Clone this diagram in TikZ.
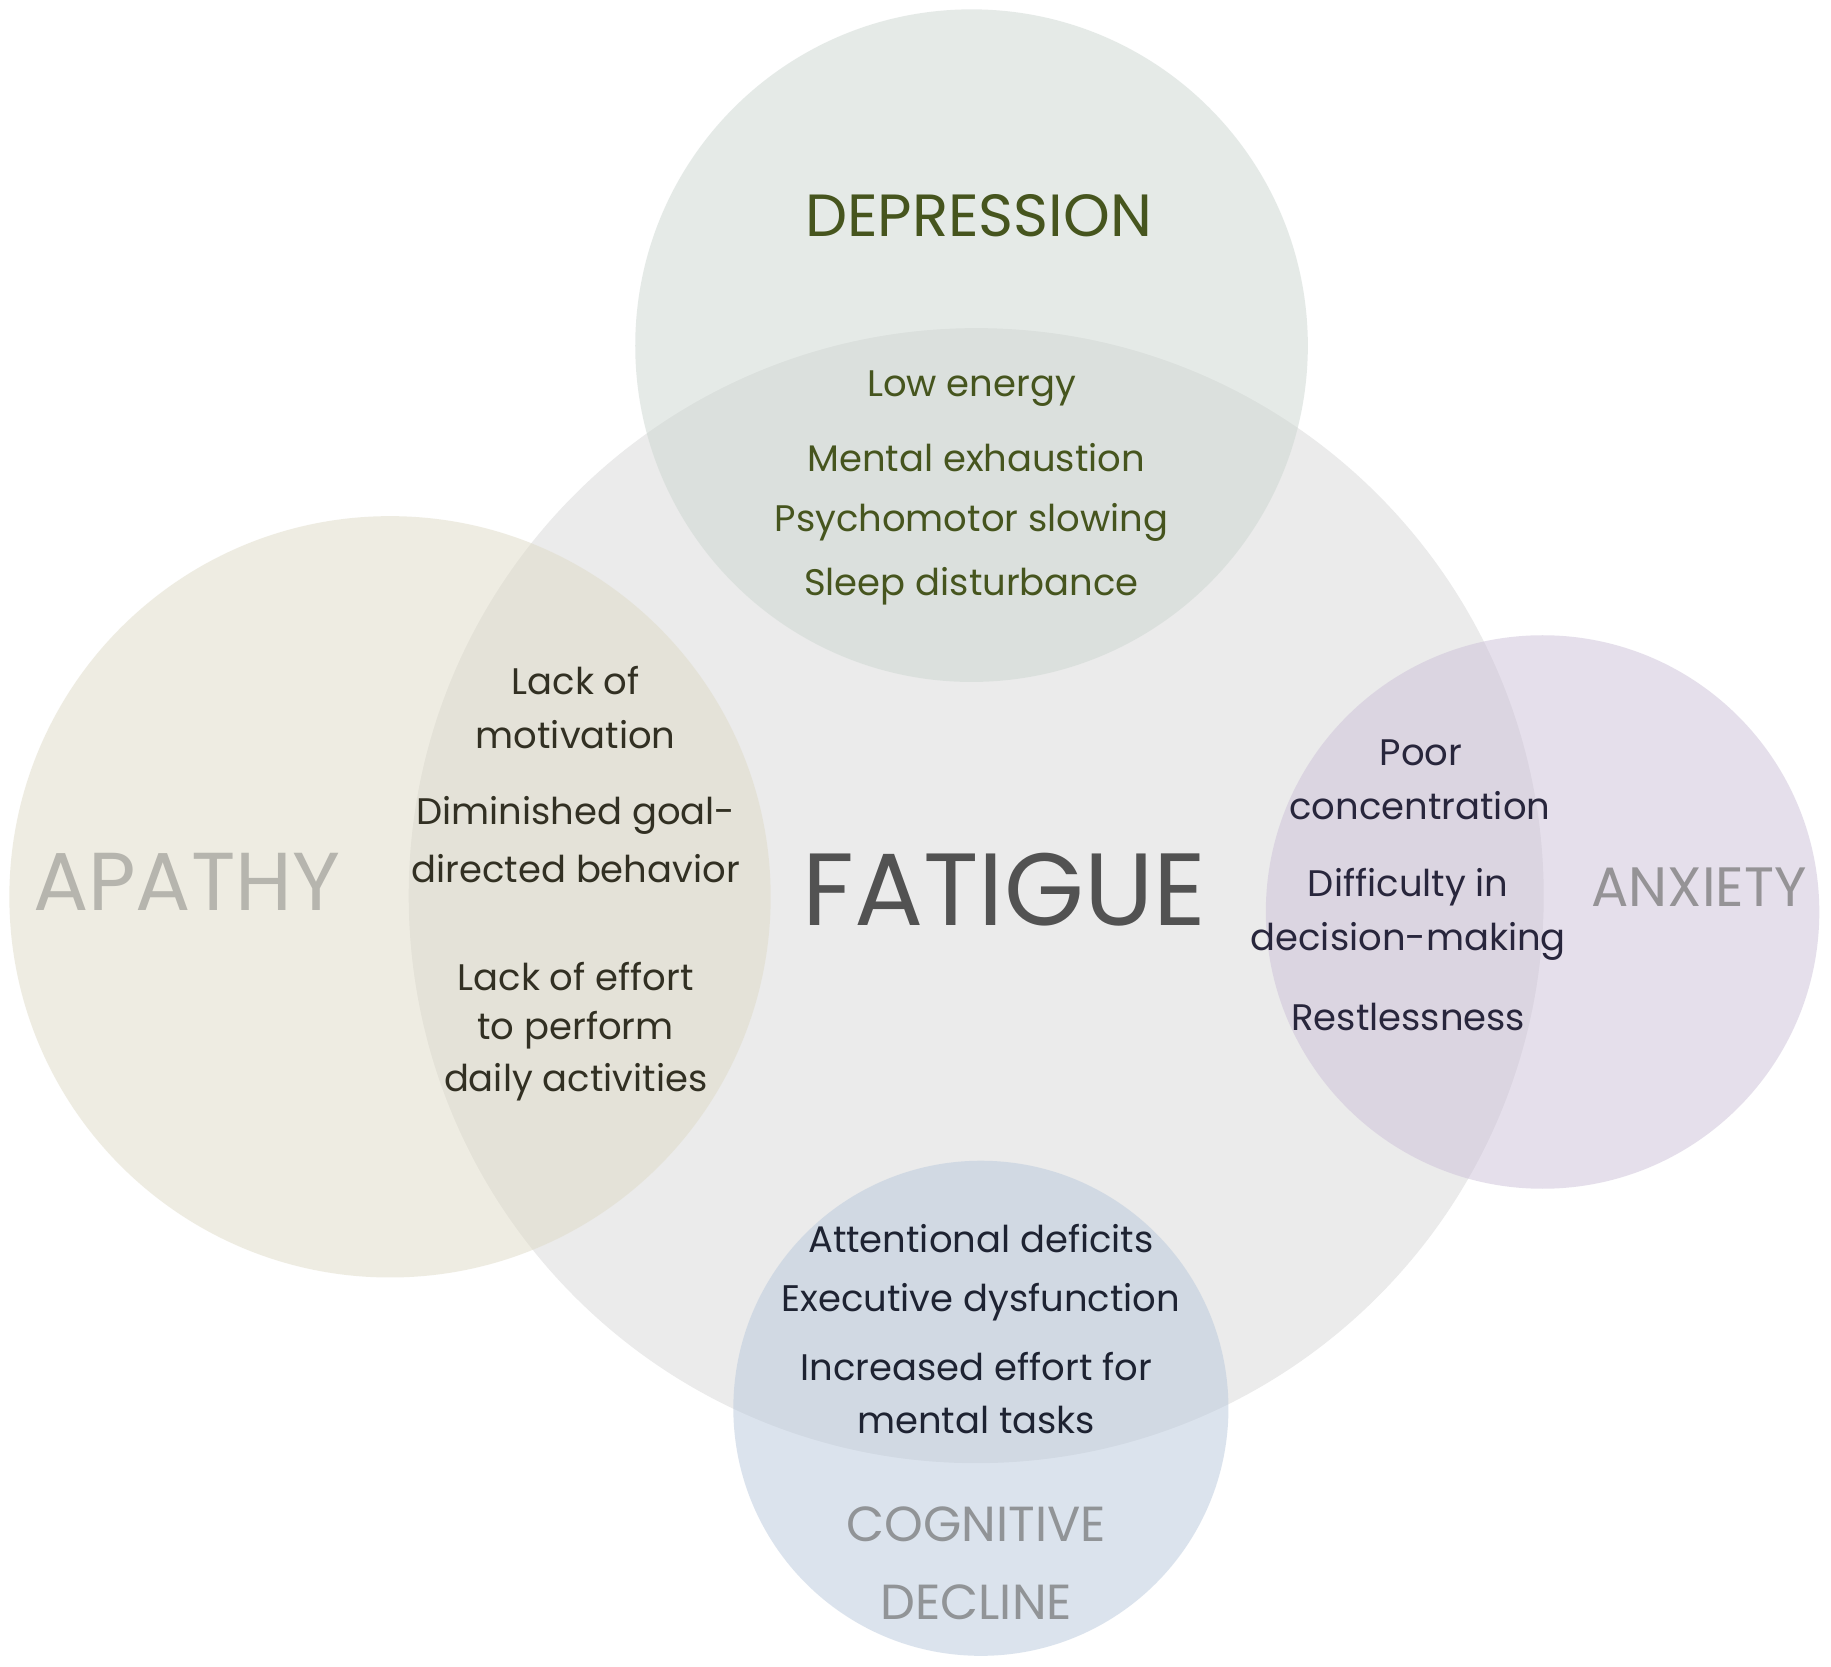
\documentclass[tikz,border=0pt]{standalone}
\usepackage{fontspec}
\setmainfont{Poppins}
\definecolor{fatc}{RGB}{235,235,235}
\definecolor{depc}{RGB}{205,215,209}
\definecolor{apac}{RGB}{223,219,199}
\definecolor{anxc}{RGB}{205,193,217}
\definecolor{cogc}{RGB}{185,201,221}
\definecolor{deptxt}{RGB}{70,85,30}
\definecolor{apatxt}{RGB}{50,48,35}
\definecolor{anxtxt}{RGB}{40,38,60}
\definecolor{cogtxt}{RGB}{30,35,50}
\begin{document}
\begin{tikzpicture}[x=0.01cm,y=-0.01cm,
  item/.style={font=\fontsize{9}{10}\selectfont},
  circ/.style={fill opacity=0.5, draw=none}]
\useasboundingbox (0,0) rectangle (1568,1427);
\fill[white] (0,0) rectangle (1568,1427);
\fill[fatc] (836,767) circle (486);
\fill[depc,circ] (832,296) circle (288);
\fill[apac,circ] (334,768) circle (326);
\fill[anxc,circ] (1321,781) circle (237);
\fill[cogc,circ] (840,1206) circle (212);
\node (fat) at (860,762) {\color{black!68}\fontsize{25}{28}\selectfont FATIGUE};
\node (dep) at (838,185) {\color{deptxt}\fontsize{14.5}{16}\selectfont DEPRESSION};
\node (apa) at (160,755) {\color{black!40!apac!60}\fontsize{20}{22}\selectfont APATHY};
\node (anx) at (1455,760) {\color{anxc!30!black!55}\fontsize{13.5}{15}\selectfont ANXIETY};
\node (cog1) at (836,1305) {\color{cogc!30!black!55}\fontsize{12}{14}\selectfont COGNITIVE};
\node (cog2) at (836,1372) {\color{cogc!30!black!55}\fontsize{12}{14}\selectfont DECLINE};
\begin{scope}[every node/.append style={item,text=deptxt}]
\node (d1) at (832,333) {Low energy};
\node (d2) at (836,392) {Mental exhaustion};
\node (d3) at (832,447) {Psychomotor slowing};
\node (d4) at (832,502) {Sleep disturbance};
\end{scope}
\begin{scope}[every node/.append style={item,text=apatxt}]
\node (a1) at (493,583) {Lack of};
\node (a2) at (493,629) {motivation};
\node (a3) at (493,698) {Diminished goal-};
\node (a4) at (493,744) {directed behavior};
\node (a5) at (493,836) {Lack of effort};
\node (a6) at (493,882) {to perform};
\node (a7) at (493,927) {daily activities};
\end{scope}
\begin{scope}[every node/.append style={item,text=anxtxt}]
\node (x1) at (1217,645) {Poor};
\node (x2) at (1216,690) {concentration};
\node (x3) at (1206,760) {Difficulty in};
\node (x4) at (1206,806) {decision-making};
\node (x5) at (1206,871) {Restlessness};
\end{scope}
\begin{scope}[every node/.append style={item,text=cogtxt}]
\node (c1) at (840,1061) {Attentional deficits};
\node (c2) at (840,1115) {Executive dysfunction};
\node (c3) at (836,1170) {Increased effort for};
\node (c4) at (836,1216) {mental tasks};
\end{scope}
\end{tikzpicture}
\end{document}
